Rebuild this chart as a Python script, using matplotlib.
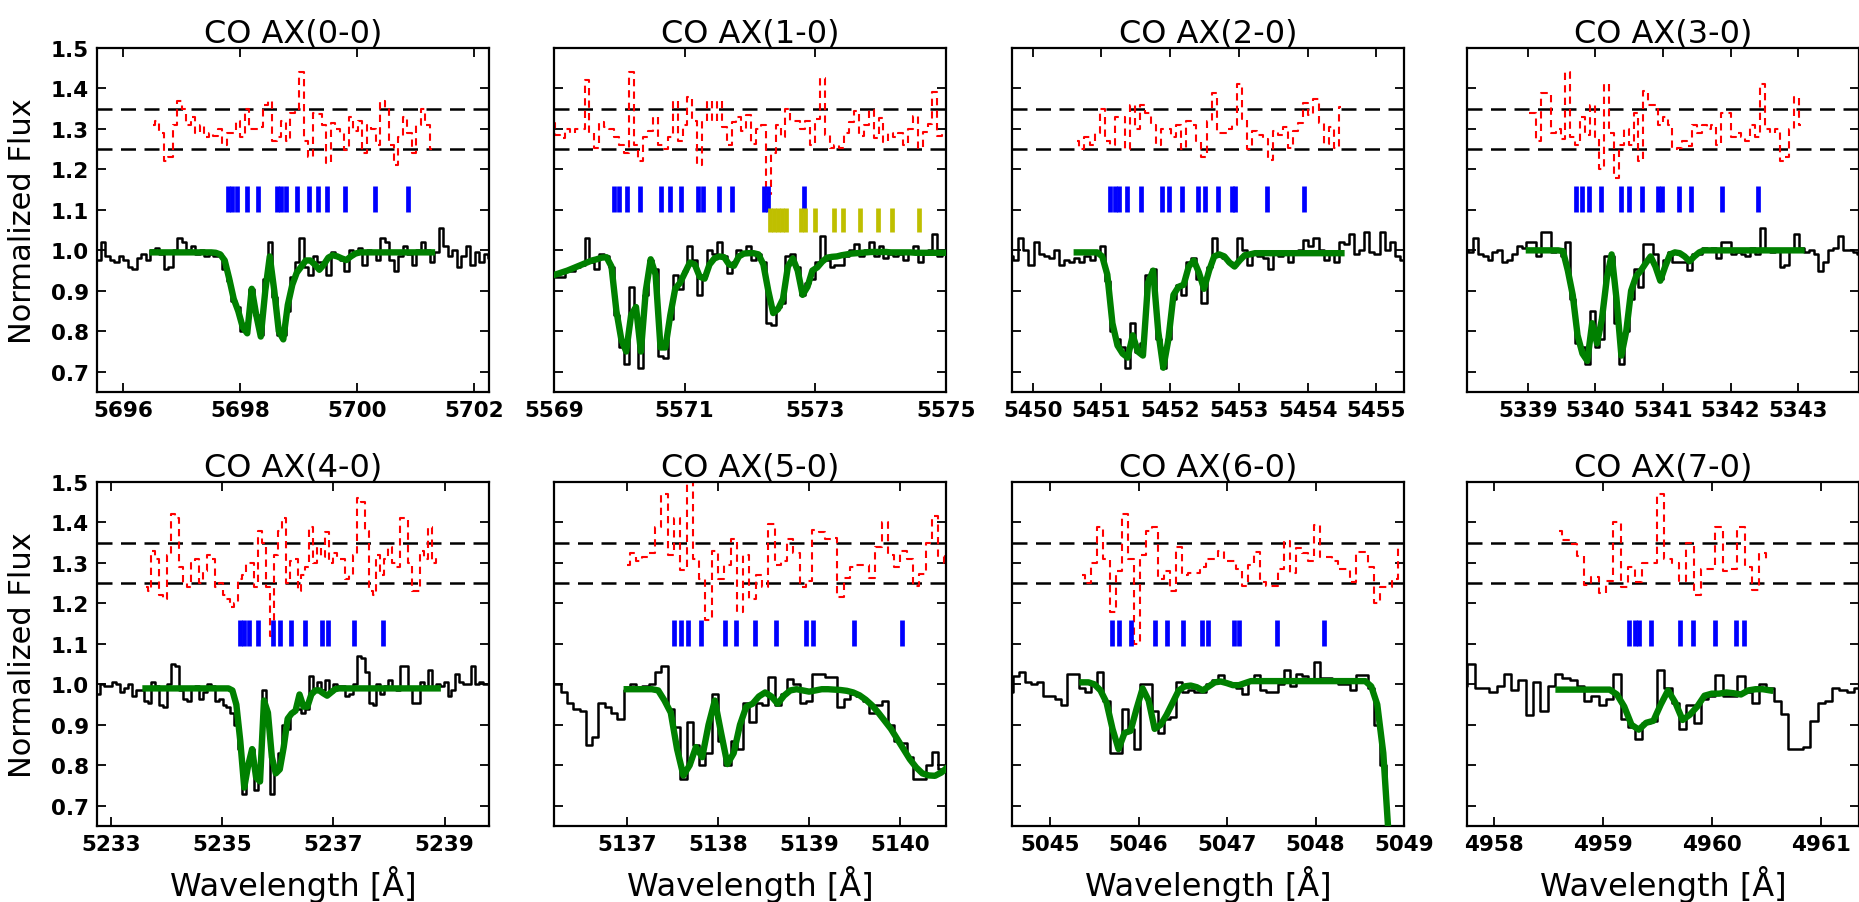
import numpy as np
import matplotlib
matplotlib.use("Agg")
import matplotlib.pyplot as plt

# ---------------------------------------------------------------------------
# Band titles
titles = ["CO AX(0-0)", "CO AX(1-0)", "CO AX(2-0)", "CO AX(3-0)",
          "CO AX(4-0)", "CO AX(5-0)", "CO AX(6-0)", "CO AX(7-0)"]

# Each spectrum: first pixel wavelength and pixel width [A], observed flux,
# index of the first pixel covered by the fit, fitted model, line positions.

# --- CO AX(0-0)
grid_00 = (5695.50, 0.077)
flux_00 = [0.96, 0.975, 1.02, 0.985, 0.975, 0.97, 0.985, 0.975, 0.96, 0.955,
           0.98, 0.99, 0.975, 1.0, 1.005, 0.99, 0.955, 0.96, 1.0, 1.03,
           1.02, 1.0, 1.01, 0.99, 1.0, 0.985, 0.99, 0.985, 0.99, 0.955,
           0.925, 0.875, 0.86, 0.8, 0.82, 0.905, 0.84, 0.79, 0.93, 1.02,
           0.885, 0.79, 0.79, 0.85, 0.935, 0.97, 1.03, 0.96, 0.94, 0.985,
           0.97, 0.97, 0.94, 0.995, 0.985, 0.975, 0.95, 1.0, 0.99, 1.005,
           0.965, 1.0, 0.995, 0.975, 1.03, 1.02, 0.975, 0.95, 0.985, 1.01,
           0.99, 0.965, 1.0, 1.02, 1.0, 0.97, 0.995, 1.055, 1.01, 0.985,
           1.0, 0.96, 0.985, 1.01, 0.965, 0.995, 0.97, 0.99, 0.98]
model_first_00 = 13
model_00 = [0.995, 0.995, 0.995, 0.995, 0.995, 0.995, 0.995, 0.995, 0.995, 0.995,
            0.995, 0.995, 0.995, 0.995, 0.994,
            0.99, 0.975, 0.93, 0.88, 0.85, 0.81, 0.795, 0.905, 0.84, 0.787,
            0.90, 0.985, 0.90, 0.80, 0.78, 0.865, 0.915, 0.945, 0.96, 0.975,
            0.975, 0.965, 0.952, 0.965, 0.982, 0.988, 0.985, 0.98, 0.976, 0.985,
            0.992,
            0.995, 0.995, 0.995, 0.995, 0.995, 0.995, 0.995, 0.995, 0.995, 0.995,
            0.995, 0.995, 0.995, 0.995, 0.995, 0.995, 0.995]
lines_00 = [5697.79, 5697.86, 5697.94, 5698.11, 5698.31, 5698.63, 5698.70,
            5698.78, 5698.96, 5699.17, 5699.32, 5699.48, 5699.79, 5700.30, 5700.87]
blend_00 = []

# --- CO AX(1-0)
grid_10 = (5568.98, 0.075)
flux_10 = [0.945, 0.935, 0.935, 0.95, 0.95, 0.96, 0.965, 1.03, 0.97, 0.955,
           0.99, 0.985, 0.96, 0.84, 0.76, 0.72, 0.91, 0.84, 0.71, 0.89,
           0.975, 0.955, 0.74, 0.735, 0.83, 0.94, 0.905, 0.95, 1.01, 0.975,
           0.89, 0.94, 1.0, 0.99, 1.02, 0.985, 0.945, 0.97, 1.0, 0.99,
           1.01, 0.975, 0.99, 0.97, 0.82, 0.815, 0.86, 0.87, 0.985, 0.99,
           0.96, 0.89, 0.92, 0.93, 0.97, 1.035, 0.975, 0.96, 0.965, 0.965,
           0.985, 1.0, 1.015, 0.985, 1.0, 1.02, 0.985, 1.01, 0.98, 0.99,
           0.985, 0.99, 0.975, 0.995, 1.01, 0.97, 0.99, 1.0, 1.04, 0.985, 0.99]
model_first_10 = 0
model_10 = [0.938, 0.942, 0.946, 0.95, 0.955, 0.96, 0.965, 0.97, 0.975, 0.978,
            0.982, 0.983, 0.96, 0.85, 0.78, 0.75, 0.84, 0.86, 0.75, 0.9,
            0.978, 0.94, 0.76, 0.76, 0.84, 0.905, 0.92, 0.945, 0.97, 0.965,
            0.935, 0.93, 0.965, 0.98, 0.985, 0.983, 0.965, 0.962, 0.985, 0.992,
            0.993, 0.993, 0.99, 0.965, 0.9, 0.845, 0.855, 0.88, 0.96, 0.98,
            0.95, 0.89, 0.91, 0.95, 0.958, 0.972, 0.982, 0.984, 0.985, 0.988,
            0.99, 0.992, 0.993, 0.994, 0.995, 0.996, 0.996, 0.996, 0.996, 0.995,
            0.995, 0.995, 0.995, 0.995, 0.994, 0.994, 0.994, 0.994, 0.994, 0.994, 0.994]
lines_10 = [5569.92, 5570.00, 5570.12, 5570.31, 5570.64, 5570.77, 5570.95,
            5571.20, 5571.28, 5571.53, 5571.72, 5572.22, 5572.27, 5572.82]
blend_10 = [5572.31, 5572.37, 5572.43, 5572.49, 5572.55, 5572.78, 5572.84,
            5572.99, 5573.29, 5573.43, 5573.68, 5573.96, 5574.18, 5574.58]

# --- CO AX(2-0)
grid_20 = (5449.68, 0.074)
flux_20 = [0.985, 0.975, 1.03, 1.0, 0.965, 1.02, 0.99, 0.985, 0.98, 1.0,
           0.965, 0.975, 0.97, 0.98, 0.97, 0.985, 0.975, 0.99, 1.01, 0.925,
           0.80, 0.78, 0.76, 0.71, 0.82, 0.75, 0.77, 0.94, 0.955, 0.78,
           0.71, 0.78, 0.88, 0.915, 0.89, 0.97, 0.98, 0.93, 0.87, 0.96,
           1.03, 0.985, 0.98, 0.97, 0.965, 1.03, 1.0, 0.965, 0.99, 0.985,
           0.98, 0.955, 0.99, 0.985, 0.995, 0.97, 0.99, 1.0, 1.025, 1.01,
           1.03, 1.0, 0.975, 0.995, 0.97, 1.02, 1.015, 1.04, 0.99, 1.0,
           1.045, 0.995, 0.99, 1.045, 1.0, 1.02, 0.985, 0.975, 1.0]
model_first_20 = 13
model_20 = [0.995, 0.995, 0.995, 0.995, 0.995,
            0.985, 0.94, 0.82, 0.765, 0.745, 0.735, 0.79, 0.75, 0.74, 0.92,
            0.95, 0.80, 0.71, 0.78, 0.89, 0.91, 0.915, 0.96, 0.975, 0.945,
            0.905, 0.95, 0.985, 0.99, 0.985, 0.97, 0.96, 0.975, 0.988, 0.99,
            0.993, 0.993, 0.993, 0.993, 0.993, 0.993, 0.993, 0.993, 0.993, 0.993,
            0.993, 0.993, 0.993, 0.993, 0.993, 0.993, 0.993, 0.993]
lines_20 = [5451.13, 5451.20, 5451.26, 5451.37, 5451.57, 5451.88, 5451.99,
            5452.17, 5452.40, 5452.50, 5452.69, 5452.90, 5452.94, 5453.41, 5453.95]
blend_20 = []

# --- CO AX(3-0)
grid_30 = (5338.08, 0.072)
flux_30 = [1.0, 0.995, 1.03, 0.99, 0.985, 0.975, 0.995, 1.0, 0.97, 0.975,
           0.99, 1.01, 1.005, 1.02, 1.02, 0.985, 1.045, 1.045, 0.995, 1.0,
           0.985, 1.02, 0.88, 0.77, 0.76, 0.72, 0.85, 0.76, 0.78, 0.985,
           0.985, 0.82, 0.72, 0.80, 0.88, 0.955, 0.91, 1.015, 1.015, 0.99,
           0.93, 0.975, 0.995, 0.97, 0.97, 0.97, 0.952, 0.99, 0.99, 1.005,
           1.0, 1.005, 0.98, 1.02, 1.02, 0.99, 0.995, 0.99, 0.985, 1.005,
           0.99, 1.055, 1.0, 0.995, 1.0, 0.96, 0.965, 1.0, 1.04, 1.005,
           0.995, 1.0, 0.99, 0.95, 0.97, 1.0, 1.005, 1.035, 1.0, 1.0, 0.995, 0.99]
model_first_30 = 13
model_30 = [1.0, 1.0, 1.0, 1.0, 1.0, 1.0, 1.0, 0.998,
            0.95, 0.89, 0.79, 0.745, 0.727, 0.82, 0.77, 0.83, 0.93, 0.99,
            0.88, 0.74, 0.80, 0.90, 0.935, 0.95, 0.968, 0.985, 0.96, 0.925,
            0.96, 0.99, 0.995, 0.993, 0.985, 0.973, 0.985, 0.995,
            1.0, 1.0, 1.0, 1.0, 1.0, 1.0, 1.0, 1.0, 1.0, 1.0,
            1.0, 1.0, 1.0, 1.0, 1.0, 1.0, 1.0, 1.0, 1.0, 1.0, 1.0]
lines_30 = [5339.72, 5339.80, 5339.91, 5340.08, 5340.38, 5340.50, 5340.69,
            5340.93, 5340.99, 5341.23, 5341.41, 5341.88, 5342.41]
blend_30 = []

# --- CO AX(4-0)
grid_40 = (5232.70, 0.071)
flux_40 = [0.975, 0.975, 1.0, 0.995, 0.995, 1.005, 1.0, 0.98, 0.99, 1.0,
           0.97, 0.985, 0.985, 0.96, 0.955, 1.005, 0.995, 0.95, 0.945, 1.0,
           1.05, 1.045, 0.985, 0.965, 0.96, 0.99, 0.995, 0.965, 0.98, 1.0,
           0.995, 0.96, 0.965, 0.95, 0.945, 0.93, 0.9, 0.84, 0.73, 0.80,
           0.84, 0.74, 0.80, 0.985, 0.9, 0.73, 0.79, 0.83, 0.9, 0.89,
           0.93, 0.94, 0.94, 0.93, 0.94, 1.02, 0.985, 1.005, 0.985, 1.01,
           0.98, 1.0, 0.995, 0.995, 0.97, 0.975, 1.0, 1.07, 1.065, 1.03,
           0.955, 0.95, 1.0, 0.975, 0.995, 1.01, 0.99, 0.985, 1.045, 1.045,
           0.99, 0.955, 0.955, 1.005, 0.995, 1.035, 0.99, 1.0, 0.995, 1.005,
           0.97, 0.985, 1.025, 1.005, 1.0, 1.0, 1.045, 1.0, 1.005, 1.0, 1.0]
model_first_40 = 13
model_40 = [0.99, 0.99, 0.99, 0.99, 0.99, 0.99, 0.99, 0.99, 0.99, 0.99,
            0.99, 0.99, 0.99, 0.99, 0.99, 0.99, 0.99, 0.99, 0.99, 0.99,
            0.99, 0.99,
            0.985, 0.95, 0.86, 0.745, 0.80, 0.84, 0.77, 0.76, 0.96, 0.93,
            0.82, 0.78, 0.79, 0.845, 0.915, 0.928, 0.935, 0.975, 0.945, 0.945,
            0.975, 0.985, 0.985, 0.978, 0.972, 0.98, 0.988,
            0.99, 0.99, 0.99, 0.99, 0.99, 0.99, 0.99, 0.99, 0.99, 0.99,
            0.99, 0.99, 0.99, 0.99, 0.99, 0.99, 0.99, 0.99, 0.99, 0.99,
            0.99, 0.99, 0.99, 0.99, 0.99, 0.99]
lines_40 = [5235.32, 5235.40, 5235.49, 5235.64, 5235.92, 5236.04, 5236.24,
            5236.49, 5236.79, 5236.91, 5237.37, 5237.89]
blend_40 = []

# --- CO AX(5-0)
grid_50 = (5136.17, 0.069)
flux_50 = [1.0, 1.0, 0.98, 0.955, 0.94, 0.935, 0.85, 0.87, 0.955, 0.945,
           0.93, 0.915, 0.985, 1.0, 0.99, 0.995, 1.0, 1.03, 1.045, 0.94,
           0.895, 0.766, 0.907, 0.85, 0.80, 0.83, 0.975, 0.86, 0.80, 0.86,
           0.84, 0.955, 0.907, 0.955, 0.95, 1.018, 0.95, 0.975, 1.014, 1.0,
           0.955, 0.96, 1.026, 1.026, 1.018, 1.018, 0.944, 0.965, 0.975, 0.97,
           0.96, 0.93, 0.95, 0.96, 0.90, 0.86, 0.855, 0.82, 0.766, 0.766,
           0.80, 0.832, 0.79, 0.795]
model_first_50 = 12
model_50 = [0.988, 0.988, 0.988, 0.988, 0.988, 0.985, 0.96, 0.93, 0.84, 0.775,
            0.80, 0.845, 0.82, 0.90, 0.96, 0.88, 0.803, 0.83, 0.90, 0.945,
            0.952, 0.97, 0.98, 0.97, 0.952, 0.972, 0.985, 0.988, 0.985, 0.982,
            0.985, 0.988, 0.988, 0.987, 0.986, 0.984, 0.98, 0.973, 0.962, 0.948,
            0.93, 0.91, 0.89, 0.865, 0.84, 0.815, 0.795, 0.78, 0.775, 0.774,
            0.782, 0.795]
lines_50 = [5137.52, 5137.59, 5137.67, 5137.81, 5138.08, 5138.20, 5138.40,
            5138.64, 5138.96, 5139.04, 5139.49, 5140.02]
blend_50 = []

# --- CO AX(6-0)
grid_60 = (5044.55, 0.068)
flux_60 = [0.98, 1.02, 1.03, 1.005, 1.0, 1.005, 0.97, 0.97, 0.965, 0.948,
           1.025, 1.026, 0.99, 0.98, 1.0, 1.03, 0.96, 0.83, 0.83, 0.94,
           0.89, 0.84, 1.0, 1.0, 0.935, 0.88, 0.915, 0.92, 1.005, 0.98,
           0.985, 0.98, 0.98, 1.0, 1.01, 1.022, 1.005, 1.0, 0.99, 0.975,
           1.005, 1.022, 0.985, 0.98, 0.98, 1.0, 1.035, 0.995, 1.026, 1.02,
           1.01, 1.055, 1.015, 1.015, 1.01, 1.0, 1.0, 0.985, 1.022, 1.022,
           0.99, 0.90, 0.80, 0.57, 0.33, 0.12]
model_first_60 = 12
model_60 = [1.005, 1.005, 1.0, 0.985, 0.955, 0.89, 0.84, 0.88, 0.885, 0.94,
            0.99, 0.96, 0.89, 0.90, 0.925, 0.955, 0.985, 0.995, 0.997, 0.993,
            0.985, 0.995, 1.005, 1.007, 1.003, 0.998, 0.998, 1.003,
            1.008, 1.008, 1.008, 1.008, 1.008, 1.008, 1.008, 1.008, 1.008, 1.008,
            1.008, 1.008, 1.008, 1.008, 1.008, 1.008, 1.008, 1.008, 1.008, 1.008,
            0.995, 0.95, 0.83, 0.6, 0.35, 0.1]
lines_60 = [5045.70, 5045.78, 5045.92, 5046.19, 5046.32, 5046.50, 5046.72,
            5046.79, 5047.08, 5047.13, 5047.57, 5048.10]
blend_60 = []

# --- CO AX(7-0)
grid_70 = (4957.72, 0.067)
flux_70 = [0.995, 1.05, 0.99, 0.99, 0.98, 0.995, 1.026, 0.985, 1.01, 0.925,
           1.005, 0.935, 0.995, 1.026, 1.015, 1.01, 0.995, 0.96, 0.97, 0.95,
           0.965, 1.026, 0.915, 0.895, 0.865, 0.905, 0.91, 1.035, 0.99, 0.955,
           0.89, 0.95, 0.905, 0.965, 0.97, 1.022, 0.97, 0.97, 1.02, 0.98,
           0.955, 1.0, 0.99, 0.96, 0.927, 0.84, 0.84, 0.845, 0.91, 0.955,
           0.96, 0.99, 0.985, 0.98, 0.99]
model_first_70 = 13
model_70 = [0.987, 0.987, 0.987, 0.987, 0.987, 0.987, 0.987, 0.987,
            0.975, 0.945, 0.90, 0.888, 0.905, 0.91, 0.95, 0.985, 0.955, 0.912,
            0.925, 0.945, 0.972, 0.977, 0.977, 0.98, 0.978, 0.975, 0.985, 0.988,
            0.988, 0.985]
lines_70 = [4959.24, 4959.29, 4959.33, 4959.44, 4959.71, 4959.83, 4960.03,
            4960.22, 4960.29]
blend_70 = []

# Wavelength windows and tick marks of the panels
xlims = [(5695.55, 5702.25), (5569.0, 5575.0), (5449.7, 5455.4), (5338.1, 5343.9),
         (5232.75, 5239.8), (5136.2, 5140.5), (5044.57, 5049.0), (4957.75, 4961.35)]
xticks = [[5696, 5698, 5700, 5702], [5569, 5571, 5573, 5575],
          [5450, 5451, 5452, 5453, 5454, 5455], [5339, 5340, 5341, 5342, 5343],
          [5233, 5235, 5237, 5239], [5137, 5138, 5139, 5140],
          [5045, 5046, 5047, 5048, 5049], [4958, 4959, 4960, 4961]]
yticks = [0.7, 0.8, 0.9, 1.0, 1.1, 1.2, 1.3, 1.4, 1.5]

grids = [grid_00, grid_10, grid_20, grid_30, grid_40, grid_50, grid_60, grid_70]
fluxes = [flux_00, flux_10, flux_20, flux_30, flux_40, flux_50, flux_60, flux_70]
firsts = [model_first_00, model_first_10, model_first_20, model_first_30,
          model_first_40, model_first_50, model_first_60, model_first_70]
models = [model_00, model_10, model_20, model_30, model_40, model_50, model_60, model_70]
lines = [lines_00, lines_10, lines_20, lines_30, lines_40, lines_50, lines_60, lines_70]
blends = [blend_00, blend_10, blend_20, blend_30, blend_40, blend_50, blend_60, blend_70]

# residuals are drawn around 1.3, magnified for visibility
resid_offset = 1.3
resid_gain = 2.0

# ---------------------------------------------------------------------------
plt.rcParams['font.family'] = ['DejaVu Sans']
W, H = 1859, 903
fig = plt.figure(figsize=(W / 100, H / 100), dpi=100)

col_left = [97, 554, 1012, 1467]
ax_w, ax_h = 392, 344
row_bottom = [393, 827]

for k in range(8):
    r, c = divmod(k, 4)
    ax = fig.add_axes([col_left[c] / W, (H - row_bottom[r]) / H, ax_w / W, ax_h / H])

    start, step = grids[k]
    flux = np.array(fluxes[k])
    wl = start + step * np.arange(len(flux))
    model = np.array(models[k])
    i0 = firsts[k]
    mwl = wl[i0:i0 + len(model)]
    resid = resid_offset + resid_gain * (flux[i0:i0 + len(model)] - model)

    for yv in (1.25, 1.35):
        ax.axhline(yv, color='k', lw=1.8, dashes=(6, 3.4), zorder=1)
    ax.step(mwl, resid, where='mid', color='r', lw=1.5, dashes=(3.5, 2.5), zorder=2)
    ax.step(wl, flux, where='mid', color='k', lw=1.8, zorder=3)
    ax.plot(mwl, model, color='g', lw=4.6, zorder=4)
    ax.vlines(lines[k], 1.095, 1.16, color='b', lw=3.4, zorder=5)
    if blends[k]:
        ax.vlines(blends[k], 1.045, 1.105, color='y', lw=3.4, zorder=5)

    ax.set_xlim(*xlims[k])
    ax.set_ylim(0.65, 1.5)
    ax.set_xticks(xticks[k])
    ax.set_xticklabels([str(t) for t in xticks[k]], fontsize=15.5, fontweight='bold')
    ax.set_yticks(yticks)
    if c == 0:
        ax.set_yticklabels(['%.1f' % v for v in yticks], fontsize=15.5, fontweight='bold')
        ax.set_ylabel('Normalized Flux', fontsize=22, labelpad=10)
    else:
        ax.set_yticklabels([])
    if r == 1:
        ax.set_xlabel('Wavelength [Å]', fontsize=23, labelpad=8)
    ax.tick_params(direction='in', top=True, right=True, length=6.5, width=1.3, pad=6)
    for sp in ax.spines.values():
        sp.set_linewidth(1.6)
    ax.set_title(titles[k], fontsize=23, pad=5)

fig.savefig('out.png', dpi=100)
